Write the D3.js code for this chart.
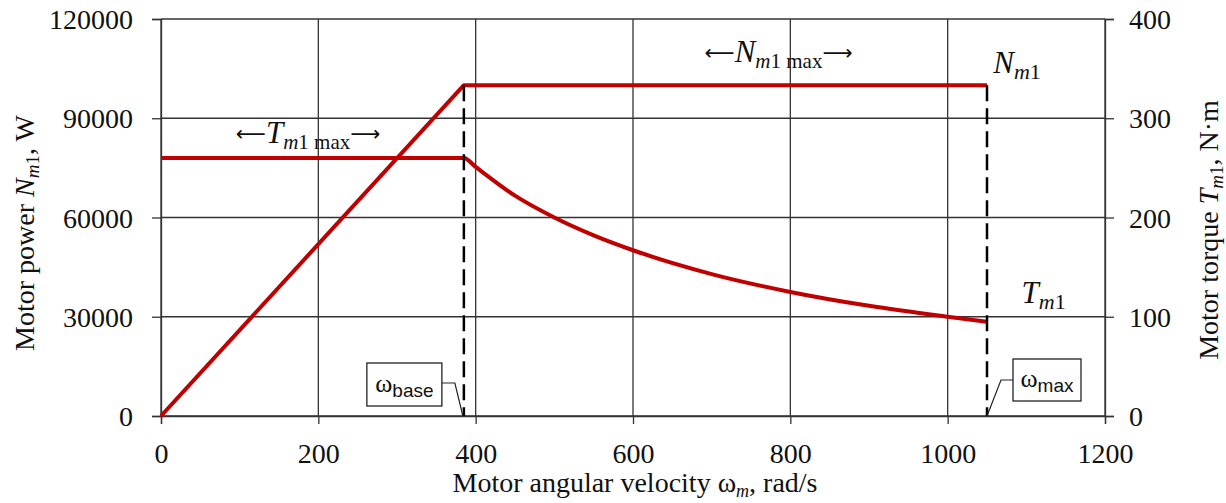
<!DOCTYPE html>
<html>
<head>
<meta charset="utf-8">
<script src="https://cdn.jsdelivr.net/npm/d3@7"></script>
<style>
  html, body { margin: 0; padding: 0; background: #fff; }
  svg { display: block; }
</style>
</head>
<body>
<div id="chart"></div>
<script>
// datos
const omegaTicks = [0, 200, 400, 600, 800, 1000, 1200];
const powerTicks = [0, 30000, 60000, 90000, 120000];
const torqueTicks = [0, 100, 200, 300, 400];

const powerOmega = [0, 385, 1050];
const powerValues = [0, 100000, 100000];

const torqueOmega = [0, 385, 400, 450, 500, 550, 600, 700, 800, 900, 1000, 1050];
const torqueValues = [260, 260, 251, 222, 200, 182, 167, 143, 125, 111, 100, 95];

const omegaBase = 385;
const omegaMax = 1050;
const powerMax = 100000;

const serif = "Liberation Serif";
const sans = "Liberation Sans";

const width = 1226, height = 503;
const margin = { top: 19, right: 121, bottom: 87, left: 161 };
const innerW = width - margin.left - margin.right;
const innerH = height - margin.top - margin.bottom;

const rojo = "#c00000";
const gris = "#333";

const svg = d3.select("#chart").append("svg")
  .attr("width", width).attr("height", height)
  .style("font-family", serif);

const g = svg.append("g").attr("transform", `translate(${margin.left},${margin.top})`);

const x = d3.scaleLinear().domain([0, 1200]).range([0, innerW]);
const yP = d3.scaleLinear().domain([0, 120000]).range([innerH, 0]);
const yT = d3.scaleLinear().domain([0, 400]).range([innerH, 0]);

// rejilla
g.append("g").selectAll("line").data(powerTicks).join("line")
  .attr("x1", 0).attr("x2", innerW)
  .attr("y1", d => yP(d)).attr("y2", d => yP(d))
  .attr("stroke", gris).attr("stroke-width", 1.3);
g.append("g").selectAll("line").data(omegaTicks).join("line")
  .attr("x1", d => x(d)).attr("x2", d => x(d))
  .attr("y1", 0).attr("y2", innerH)
  .attr("stroke", gris).attr("stroke-width", 1.3);

// ejes
const fontSize = 28;
const axB = g.append("g").attr("transform", `translate(0,${innerH})`)
  .call(d3.axisBottom(x).tickValues(omegaTicks).tickSize(8).tickPadding(19).tickFormat(d3.format("d")));
const axL = g.append("g")
  .call(d3.axisLeft(yP).tickValues(powerTicks).tickSize(9).tickPadding(19).tickFormat(d3.format("d")));
const axR = g.append("g").attr("transform", `translate(${innerW},0)`)
  .call(d3.axisRight(yT).tickValues(torqueTicks).tickSize(9).tickPadding(15).tickFormat(d3.format("d")));

[axB, axL, axR].forEach(a => {
  a.attr("font-family", serif).attr("font-size", fontSize);
  a.select(".domain").attr("stroke", gris).attr("stroke-width", 1.3);
  a.selectAll(".tick line").attr("stroke", gris).attr("stroke-width", 1.3);
  a.selectAll(".tick text")
    .style("font-family", serif)
    .style("font-size", fontSize + "px")
    .attr("fill", "#111");
});
axL.selectAll(".tick text").attr("dy", "0.34em");
axR.selectAll(".tick text").attr("dy", "0.34em");

// curvas
g.append("path")
  .datum(d3.zip(powerOmega, powerValues))
  .attr("fill", "none").attr("stroke", rojo).attr("stroke-width", 4)
  .attr("stroke-linejoin", "round")
  .attr("d", d3.line().x(d => x(d[0])).y(d => yP(d[1])));
g.append("path")
  .datum(d3.zip(torqueOmega, torqueValues))
  .attr("fill", "none").attr("stroke", rojo).attr("stroke-width", 4)
  .attr("stroke-linejoin", "round")
  .attr("d", d3.line().curve(d3.curveMonotoneX).x(d => x(d[0])).y(d => yT(d[1])));

// líneas discontinuas
[omegaBase, omegaMax].forEach(w => {
  g.append("line")
    .attr("x1", x(w)).attr("x2", x(w))
    .attr("y1", yP(powerMax)).attr("y2", innerH)
    .attr("stroke", "#000").attr("stroke-width", 2.5)
    .attr("stroke-dasharray", "16,7");
});

// llamadas omega
function callout(bx, by, bw, bh, pts, sub) {
  g.append("polyline")
    .attr("points", pts.map(p => p.join(",")).join(" "))
    .attr("fill", "none").attr("stroke", "#222").attr("stroke-width", 1.2);
  g.append("rect").attr("x", bx).attr("y", by).attr("width", bw).attr("height", bh)
    .attr("fill", "#fff").attr("stroke", "#222").attr("stroke-width", 1.3);
  const t = g.append("text").attr("x", bx + bw / 2).attr("y", by + bh / 2 + 7)
    .attr("text-anchor", "middle").style("font-family", serif).style("font-size", "26px").attr("fill", "#111");
  t.append("tspan").text("ω");
  t.append("tspan").style("font-family", sans)
    .style("font-size", "19px").attr("dy", 5).text(sub);
}
callout(x(omegaBase) - 97, yP(0) - 53, 75, 43,
  [[x(omegaBase) - 22, yP(0) - 33], [x(omegaBase) - 9, yP(0) - 33], [x(omegaBase) - 1, yP(0)]], "base");
callout(x(omegaMax) + 26, yP(0) - 57, 68, 42,
  [[x(omegaMax) + 26, yP(0) - 36], [x(omegaMax) + 14, yP(0) - 36], [x(omegaMax), yP(0)]], "max");

// etiquetas de tramo
function rango(cx, cy, sym) {
  const t = g.append("text").attr("x", cx).attr("y", cy).attr("text-anchor", "middle")
    .style("font-family", serif).style("font-size", "28px").attr("fill", "#111");
  t.append("tspan").style("font-family", "DejaVu Sans").style("font-size", "21px").attr("dy", -2).text("⟵");
  t.append("tspan").style("font-style", "italic").style("font-size", "31px").attr("dy", 2).text(sym);
  t.append("tspan").style("font-style", "italic").style("font-size", "21px").attr("dy", 6).text("m");
  t.append("tspan").style("font-size", "21px").text("1 max");
  t.append("tspan").style("font-family", "DejaVu Sans").style("font-size", "21px").attr("dy", -8).text("⟶");
}
rango(x(187), yP(82500), "T");
rango(x(785), yP(107000), "N");

function etiqueta(px, py, sym) {
  const t = g.append("text").attr("x", px).attr("y", py)
    .style("font-family", serif).style("font-size", "31px").attr("fill", "#111");
  t.append("tspan").style("font-style", "italic").text(sym);
  t.append("tspan").style("font-style", "italic").style("font-size", "22px").attr("dy", 6).text("m");
  t.append("tspan").style("font-size", "22px").text("1");
}
etiqueta(x(1058), yP(103700), "N");
etiqueta(x(1094), yT(114), "T");

// títulos de ejes
const tx = svg.append("text")
  .attr("x", margin.left + innerW / 2 + 2).attr("y", height - 11)
  .attr("text-anchor", "middle").style("font-family", serif).style("font-size", "28px").attr("fill", "#111");
tx.append("tspan").text("Motor angular velocity ω");
tx.append("tspan").style("font-style", "italic").style("font-size", "18px").attr("dy", 5).text("m");
tx.append("tspan").attr("dy", -5).text(", rad/s");

const tl = svg.append("text")
  .attr("transform", `translate(34,${margin.top + 214}) rotate(-90)`)
  .attr("text-anchor", "middle").style("font-family", serif).style("font-size", "28px").attr("fill", "#111");
tl.append("tspan").text("Motor power ");
tl.append("tspan").style("font-style", "italic").text("N");
tl.append("tspan").style("font-style", "italic").style("font-size", "19px").attr("dy", 5).text("m");
tl.append("tspan").style("font-size", "19px").text("1");
tl.append("tspan").attr("dy", -5).text(", W");

const tr = svg.append("text")
  .attr("transform", `translate(1218,${margin.top + 211}) rotate(-90)`)
  .attr("text-anchor", "middle").style("font-family", serif).style("font-size", "28px").attr("fill", "#111");
tr.append("tspan").text("Motor torque ");
tr.append("tspan").style("font-style", "italic").text("T");
tr.append("tspan").style("font-style", "italic").style("font-size", "19px").attr("dy", 5).text("m");
tr.append("tspan").style("font-size", "19px").text("1");
tr.append("tspan").attr("dy", -5).text(", N·m");
</script>
</body>
</html>
